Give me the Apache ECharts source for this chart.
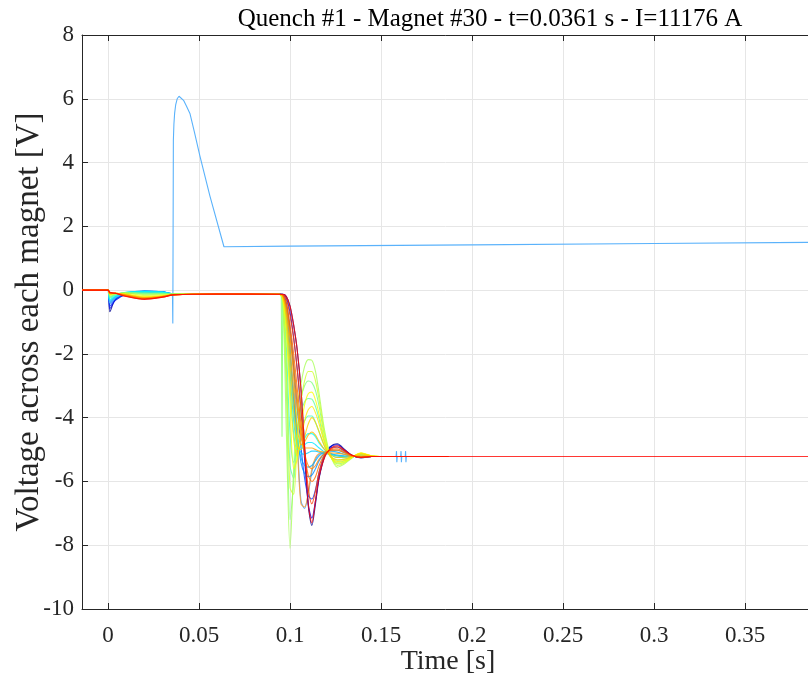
<!DOCTYPE html>
<html>
<head>
<meta charset="utf-8">
<script src="https://cdn.jsdelivr.net/npm/echarts@6/dist/echarts.min.js"></script>
<style>
  html, body { margin: 0; padding: 0; background: #ffffff; }
  #chart { width: 808px; height: 682px; }
</style>
</head>
<body>
<div id="chart"></div>
<script>
// Sample times [s] shared by the magnet voltage traces
const timeS = [-0.0143, 0, 0.001, 0.004, 0.01, 0.02, 0.03, 0.036, 0.06, 0.094,
  0.096, 0.098, 0.100, 0.102, 0.104, 0.106, 0.108, 0.110, 0.112, 0.114,
  0.116, 0.119, 0.122, 0.126, 0.130, 0.134, 0.139, 0.145, 0.155, 0.187, 0.3879];

// Voltage across each magnet [V], one array per magnet, in chain order
const trace01 = [0, 0, -0.68, -0.3, -0.12, -0.06, -0.08, -0.13, -0.12, -0.13, -0.13, -0.2, -0.5, -1.1, -1.9, -3.1, -4.9, -6.75, -7.38, -6.7, -5.9, -5.22, -4.92, -4.82, -5.0, -5.18, -5.26, -5.22, -5.22, -5.22, null];
const trace02 = [0, 0, -0.58, -0.32, -0.14, -0.05, -0.07, -0.13, -0.12, -0.13, -0.13, -0.25, -0.7, -1.5, -2.5, -3.8, -5.3, -6.7, -7.15, -6.6, -5.85, -5.2, -4.92, -4.85, -5.02, -5.18, -5.25, -5.22, -5.22, -5.22, null];
const trace03 = [0, 0, -0.5, -0.3, -0.12, -0.04, -0.06, -0.12, -0.12, -0.13, -0.14, -0.4, -1.2, -2.4, -3.7, -4.9, -5.9, -6.45, -6.55, -6.25, -5.7, -5.15, -4.95, -4.92, -5.06, -5.19, -5.24, -5.22, -5.22, -5.22, null];
const trace04 = [0, 0, -0.42, -0.26, -0.1, -0.03, -0.05, -0.12, -0.12, -0.13, -0.15, -0.6, -1.8, -3.3, -4.6, -5.4, -5.75, -5.85, -5.8, -5.6, -5.35, -5.1, -5.02, -5.02, -5.1, -5.2, -5.23, -5.22, -5.22, -5.22, null];
const trace05 = [0, 0, -0.38, -0.24, -0.09, -0.035, -0.055, -0.12, -0.12, -0.13, -0.16, -0.7, -2.0, -3.5, -4.65, -5.25, -5.5, -5.55, -5.5, -5.35, -5.2, -5.08, -5.05, -5.08, -5.15, -5.21, -5.22, -5.22, -5.22, -5.22, null];
const trace06 = [0, 0, -0.35, -0.22, -0.08, -0.04, -0.06, -0.12, -0.12, -0.13, -0.17, -0.8, -2.2, -3.7, -4.7, -5.1, -5.15, -5.1, -5.05, -5.05, -5.08, -5.12, -5.15, -5.17, -5.2, -5.22, -5.22, -5.22, -5.22, -5.22, null];
const trace07 = [0, 0, -0.32, -0.2, -0.075, -0.045, -0.065, -0.12, -0.12, -0.13, -0.18, -1.0, -2.6, -4.1, -4.9, -5.0, -4.85, -4.78, -4.78, -4.85, -4.95, -5.08, -5.15, -5.2, -5.22, -5.22, -5.22, -5.22, -5.22, -5.22, null];
const trace08 = [0, 0, -0.3, -0.18, -0.07, -0.05, -0.07, -0.12, -0.12, -0.13, -0.2, -1.2, -3.0, -4.5, -5.0, -4.9, -4.65, -4.5, -4.5, -4.6, -4.8, -5.0, -5.15, -5.25, -5.25, -5.22, -5.2, -5.22, -5.22, -5.22, null];
const trace09 = [0, 0, -0.25, -0.15, -0.07, -0.08, -0.09, -0.12, -0.12, -0.13, -0.25, -1.8, -4.5, -5.4, -4.9, -4.4, -4.1, -3.95, -3.95, -4.15, -4.45, -4.9, -5.2, -5.33, -5.3, -5.24, -5.18, -5.21, -5.22, -5.22, null];
const trace10 = [0, 0, -0.22, -0.14, -0.075, -0.1, -0.1, -0.12, -0.12, -0.13, -0.3, -2.3, -5.5, -5.9, -4.6, -3.85, -3.5, -3.4, -3.42, -3.65, -4.05, -4.75, -5.2, -5.4, -5.36, -5.25, -5.15, -5.21, -5.22, -5.22, null];
const trace11 = [0, 0, -0.2, -0.13, -0.08, -0.11, -0.11, -0.12, -0.12, -0.13, -0.35, -3.2, -7.2, -6.0, -4.3, -3.4, -3.0, -2.85, -2.9, -3.15, -3.65, -4.6, -5.18, -5.45, -5.4, -5.25, -5.15, -5.21, -5.22, -5.22, null];
const trace12 = [0, 0, -0.17, -0.12, -0.09, -0.14, -0.13, -0.13, -0.12, -0.13, -0.4, -4.5, -8.1, -5.6, -3.6, -2.95, -2.4, -2.18, -2.2, -2.55, -3.25, -4.4, -5.15, -5.55, -5.45, -5.27, -5.12, -5.2, -5.22, -5.22, null];
const trace13 = [0, 0, -0.15, -0.11, -0.1, -0.17, -0.15, -0.13, -0.12, -0.13, -0.3, -2.6, -6.2, -6.4, -4.6, -3.5, -2.85, -2.55, -2.55, -2.85, -3.45, -4.5, -5.15, -5.5, -5.42, -5.25, -5.12, -5.2, -5.22, -5.22, null];
const trace14 = [0, 0, -0.13, -0.1, -0.12, -0.2, -0.17, -0.13, -0.12, -0.13, -0.25, -1.4, -3.5, -5.6, -5.3, -4.3, -3.6, -3.25, -3.2, -3.45, -3.9, -4.7, -5.2, -5.42, -5.38, -5.25, -5.1, -5.2, -5.22, -5.22, null];
const trace15 = [0, 0, -0.125, -0.1, -0.13, -0.215, -0.18, -0.135, -0.12, -0.13, -0.22, -1.1, -2.9, -4.7, -5.2, -4.7, -4.1, -3.75, -3.65, -3.85, -4.2, -4.8, -5.2, -5.37, -5.34, -5.23, -5.12, -5.2, -5.22, -5.22, null];
const trace16 = [0, 0, -0.12, -0.1, -0.14, -0.23, -0.19, -0.14, -0.12, -0.13, -0.2, -0.9, -2.3, -3.8, -4.9, -5.0, -4.6, -4.2, -4.0, -4.15, -4.45, -4.9, -5.2, -5.32, -5.3, -5.22, -5.14, -5.2, -5.22, -5.22, null];
const trace17 = [0, 0, -0.11, -0.1, -0.15, -0.24, -0.195, -0.14, -0.12, -0.13, -0.18, -0.75, -1.9, -3.2, -4.3, -4.85, -4.75, -4.55, -4.45, -4.55, -4.75, -5.0, -5.16, -5.25, -5.24, -5.22, -5.18, -5.21, -5.22, -5.22, null];
const trace18 = [0, 0, -0.1, -0.1, -0.16, -0.25, -0.2, -0.14, -0.12, -0.13, -0.17, -0.6, -1.5, -2.6, -3.7, -4.6, -4.95, -4.95, -4.95, -5.0, -5.05, -5.08, -5.1, -5.12, -5.15, -5.2, -5.23, -5.22, -5.22, -5.22, null];
const trace19 = [0, 0, -0.095, -0.1, -0.17, -0.26, -0.205, -0.145, -0.12, -0.13, -0.16, -0.5, -1.3, -2.3, -3.4, -4.4, -5.1, -5.5, -5.6, -5.5, -5.3, -5.12, -5.04, -5.02, -5.1, -5.2, -5.23, -5.22, -5.22, -5.22, null];
const trace20 = [0, 0, -0.09, -0.1, -0.18, -0.27, -0.21, -0.15, -0.12, -0.13, -0.15, -0.45, -1.1, -2.0, -3.1, -4.2, -5.1, -5.8, -6.0, -5.85, -5.5, -5.15, -5.02, -4.98, -5.08, -5.18, -5.23, -5.22, -5.22, -5.22, null];
const trace21 = [0, 0, -0.08, -0.1, -0.19, -0.28, -0.22, -0.15, -0.12, -0.13, -0.14, -0.3, -0.8, -1.5, -2.5, -3.7, -5.0, -6.2, -6.7, -6.3, -5.7, -5.2, -5.0, -4.92, -5.04, -5.18, -5.24, -5.22, -5.22, -5.22, null];
const trace22 = [0, 0, -0.07, -0.1, -0.2, -0.29, -0.22, -0.15, -0.12, -0.13, -0.13, -0.2, -0.5, -1.1, -1.9, -3.1, -4.9, -6.7, -7.3, -6.6, -5.85, -5.25, -4.98, -4.88, -5.02, -5.18, -5.25, -5.22, -5.22, -5.22, -5.22];

// Two magnets whose discharge bottoms out early
const traceFlatA = [0, 0, -0.4, -0.24, -0.09, -0.03, -0.05, -0.12, -0.12, -0.13, -0.15, -0.5, -1.3, -2.5, -4.7, -6.6, -6.85, -6.4, -5.7, -5.3, -5.15, -5.1, -5.12, -5.18, -5.2, -5.22, -5.22, -5.22, -5.22, -5.22, null];
const traceFlatB = [0, 0, -0.11, -0.1, -0.15, -0.24, -0.2, -0.14, -0.12, -0.13, -0.16, -0.55, -1.4, -2.7, -4.9, -6.7, -6.8, -6.35, -5.6, -5.25, -5.12, -5.1, -5.14, -5.2, -5.22, -5.22, -5.22, -5.22, -5.22, -5.22, null];

// jet colour map along the chain, blue to red
const magnetColors = ['#000094', '#0000e6', '#0038ff', '#008aff', '#00aaff', '#00c7ff',
  '#00e6ff', '#05fffa', '#42ffbd', '#61ff9e', '#80ff80', '#a8ff57',
  '#d1ff2e', '#faff05', '#ffeb00', '#ffd100', '#ffb800', '#ff9e00',
  '#ff8500', '#ff6b00', '#ff3800', '#ff0500'];
const flatColors = ['#3d9cff', '#ffa030'];

// Quenching magnet #30
const quenchT = [-0.0143, 0, 0.001, 0.004, 0.01, 0.02, 0.03, 0.0354, 0.0356, 0.0359, 0.0362,
  0.0366, 0.0372, 0.038, 0.039, 0.040, 0.0415, 0.043, 0.045, 0.0475, 0.0505, 0.056, 0.0637,
  0.1, 0.2, 0.3, 0.3879];
const quenchV = [0, 0, -0.4, -0.22, -0.08, -0.05, -0.07, -0.13, -1.05, 4.7, 5.2,
  5.55, 5.82, 6.0, 6.08, 6.06, 5.95, 5.78, 5.54, 4.95, 4.2, 2.95, 1.36,
  1.38, 1.42, 1.46, 1.5];
const quenchColor = '#5ab2fb';

// Short glitch on one trace at the start of the discharge
const glitchT = [0.0952, 0.0956, 0.0960];
const glitchV = [-0.13, -4.6, -0.4];
const glitchColor = '#8cff78';

// Acquisition spikes on the settled level
const spikeT = [0.150, 0.1583, 0.1585, 0.1587, 0.1589, 0.1608, 0.1610, 0.1612, 0.1614, 0.1633, 0.1635, 0.1637, 0.1639, 0.170];
const spikeV = [-5.22, -5.22, -5.05, -5.4, -5.22, -5.22, -5.05, -5.4, -5.22, -5.22, -5.05, -5.4, -5.22, -5.22];

const titleText = 'Quench #1 - Magnet #30 - t=0.0361 s - I=11176 A';
const xName = 'Time [s]';
const yName = 'Voltage across each magnet [V]';
const yTicks = { min: -10, max: 8, step: 2 };
const xRange = { min: -0.0143, max: 0.3879 };

const FONT = "'Liberation Serif', 'Times New Roman', serif";
const AXIS_COLOR = '#262626';
const GRID_COLOR = '#e6e6e6';

function pairs(ts, vs) {
  const out = [];
  for (let i = 0; i < ts.length; i++) {
    if (vs[i] === null || vs[i] === undefined) continue;
    out.push([ts[i], vs[i]]);
  }
  return out;
}

function lineSeries(data, color, smooth, opacity) {
  return {
    type: 'line',
    data: data,
    showSymbol: false,
    symbol: 'none',
    smooth: smooth,
    silent: true,
    lineStyle: { color: color, width: 1.1, opacity: opacity },
    xAxisIndex: 0,
    yAxisIndex: 0
  };
}

const bundle = [trace01, trace02, trace03, trace04, trace05, trace06, trace07, trace08,
  trace09, trace10, trace11, trace12, trace13, trace14, trace15, trace16, trace17,
  trace18, trace19, trace20, trace21, trace22];

const series = [];
series.push(lineSeries(pairs(timeS, traceFlatA), flatColors[0], 0.3, 0.85));
series.push(lineSeries(pairs(timeS, traceFlatB), flatColors[1], 0.3, 0.85));
bundle.forEach(function (tr, i) {
  if (i === 6) {
    series.push(lineSeries(pairs(quenchT, quenchV), quenchColor, false, 1));
    series.push(lineSeries(pairs(spikeT, spikeV), quenchColor, false, 1));
  }
  if (i === 12) {
    series.push(lineSeries(pairs(glitchT, glitchV), glitchColor, false, 0.9));
  }
  series.push(lineSeries(pairs(timeS, tr), magnetColors[i], 0.3, 0.8));
});

const chart = echarts.init(document.getElementById('chart'), null, { renderer: 'canvas' });
chart.setOption({
  animation: false,
  backgroundColor: '#ffffff',
  textStyle: { fontFamily: FONT },
  title: {
    text: titleText,
    left: 485,
    top: 2,
    textAlign: 'center',
    textStyle: { fontFamily: FONT, fontSize: 25, fontWeight: 'normal', color: '#000000' }
  },
  grid: { left: 82, top: 35, right: -6, bottom: 73, containLabel: false, outerBoundsMode: 'none' },
  xAxis: [{
    type: 'value',
    position: 'bottom',
    min: xRange.min,
    max: xRange.max,
    splitNumber: 8,
    name: xName,
    nameLocation: 'middle',
    nameGap: 39,
    nameMoveOverlap: false,
    nameTextStyle: { fontFamily: FONT, fontSize: 28, color: AXIS_COLOR },
    axisLine: { show: true, onZero: false, lineStyle: { color: AXIS_COLOR, width: 1 } },
    axisTick: { show: true, inside: true, length: 6, lineStyle: { color: AXIS_COLOR } },
    axisLabel: { show: true, showMinLabel: false, showMaxLabel: false, margin: 15,
      fontFamily: FONT, fontSize: 23, color: AXIS_COLOR },
    splitLine: { show: true, lineStyle: { color: GRID_COLOR, width: 1 } }
  }, {
    type: 'value',
    position: 'top',
    min: xRange.min,
    max: xRange.max,
    splitNumber: 8,
    axisLine: { show: true, onZero: false, lineStyle: { color: AXIS_COLOR, width: 1 } },
    axisTick: { show: true, inside: true, length: 6, lineStyle: { color: AXIS_COLOR } },
    axisLabel: { show: false },
    splitLine: { show: false }
  }],
  yAxis: [{
    type: 'value',
    position: 'left',
    min: yTicks.min,
    max: yTicks.max,
    interval: yTicks.step,
    name: yName,
    nameLocation: 'middle',
    nameGap: 36,
    nameRotate: 90,
    nameMoveOverlap: false,
    nameTextStyle: { fontFamily: FONT, fontSize: 33, color: AXIS_COLOR },
    axisLine: { show: true, onZero: false, lineStyle: { color: AXIS_COLOR, width: 1 } },
    axisTick: { show: true, inside: true, length: 6, lineStyle: { color: AXIS_COLOR } },
    axisLabel: { show: true, margin: 8, fontFamily: FONT, fontSize: 23, color: AXIS_COLOR },
    splitLine: { show: true, lineStyle: { color: GRID_COLOR, width: 1 } }
  }],
  series: series
});
</script>
</body>
</html>
